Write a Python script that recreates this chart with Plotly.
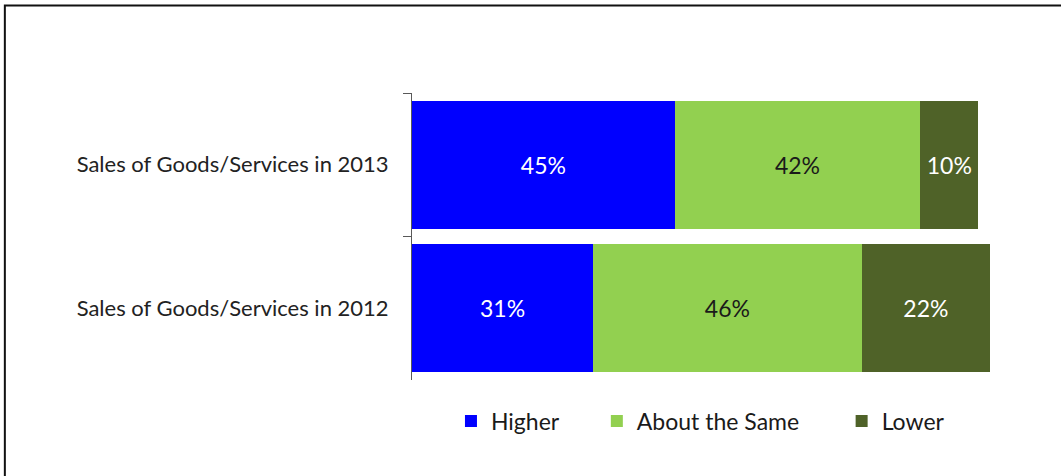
import plotly.graph_objects as go

# Survey responses: share of businesses reporting sales change
categories = ["Sales of Goods/Services in 2013", "Sales of Goods/Services in 2012"]
series_names = ["Higher", "About the Same", "Lower"]
higher = [45, 31]
about_same = [42, 46]
lower = [10, 22]

colors = ["#0000FF", "#92D050", "#4F6228"]
label_colors = ["#FFFFFF", "#1A1A1A", "#FFFFFF"]

W, H = 1061, 476
left, right, top, bottom = 412, 64.5, 93, 96
plot_w = W - left - right
plot_h = H - top - bottom

FONT = "Lato, Calibri, Arial, sans-serif"
FS = 22


def px_to_paper_x(px):
    return (px - left) / plot_w


def px_to_paper_y(py):
    return (H - bottom - py) / plot_h


# each series gets its own legend box so the entries can be spaced freely
legend_ids = ["legend", "legend2", "legend3"]
legend_text_x = [491, 637, 882]

fig = go.Figure()
for name, vals, col, tcol, lid in zip(series_names, [higher, about_same, lower],
                                      colors, label_colors, legend_ids):
    fig.add_trace(go.Bar(
        name=name,
        y=categories,
        x=vals,
        orientation="h",
        marker=dict(color=col, line=dict(width=0)),
        text=[f"{v}%" for v in vals],
        textposition="inside",
        insidetextanchor="middle",
        textangle=0,
        textfont=dict(color=tcol, size=FS + 1, family=FONT),
        hoverinfo="skip",
        legend=lid,
    ))

# outer frame of the chart area
fig.add_shape(type="rect", xref="paper", yref="paper",
              x0=px_to_paper_x(4.5), x1=px_to_paper_x(1070),
              y0=px_to_paper_y(490), y1=px_to_paper_y(5.5),
              line=dict(color="#111111", width=2), fillcolor="rgba(0,0,0,0)")

legend_common = dict(
    orientation="h",
    yanchor="middle",
    xanchor="left",
    font=dict(size=FS + 1, color="#1A1A1A", family=FONT),
    itemwidth=30,
    bgcolor="rgba(0,0,0,0)",
    borderwidth=0,
)
legend_layout = {}
for lid, tx in zip(legend_ids, legend_text_x):
    legend_layout[lid] = dict(legend_common,
                              x=px_to_paper_x(tx - 40),
                              y=px_to_paper_y(421))

fig.update_layout(
    width=W, height=H,
    barmode="stack",
    bargap=0.11,
    margin=dict(l=left, r=right, t=top, b=bottom),
    paper_bgcolor="white",
    plot_bgcolor="white",
    font=dict(family=FONT, size=FS, color="#1A1A1A"),
    showlegend=True,
    xaxis=dict(range=[0, 100], visible=False, fixedrange=True),
    yaxis=dict(
        autorange="reversed",
        showline=True, linecolor="#595959", linewidth=1,
        ticks="outside", ticklen=8, tickcolor="#595959", tickwidth=1.2,
        tickson="boundaries",
        ticklabelstandoff=18,
        tickfont=dict(size=FS, color="#222222", family=FONT),
        showgrid=False, zeroline=False,
    ),
    **legend_layout,
)

fig.write_html("out.html")
